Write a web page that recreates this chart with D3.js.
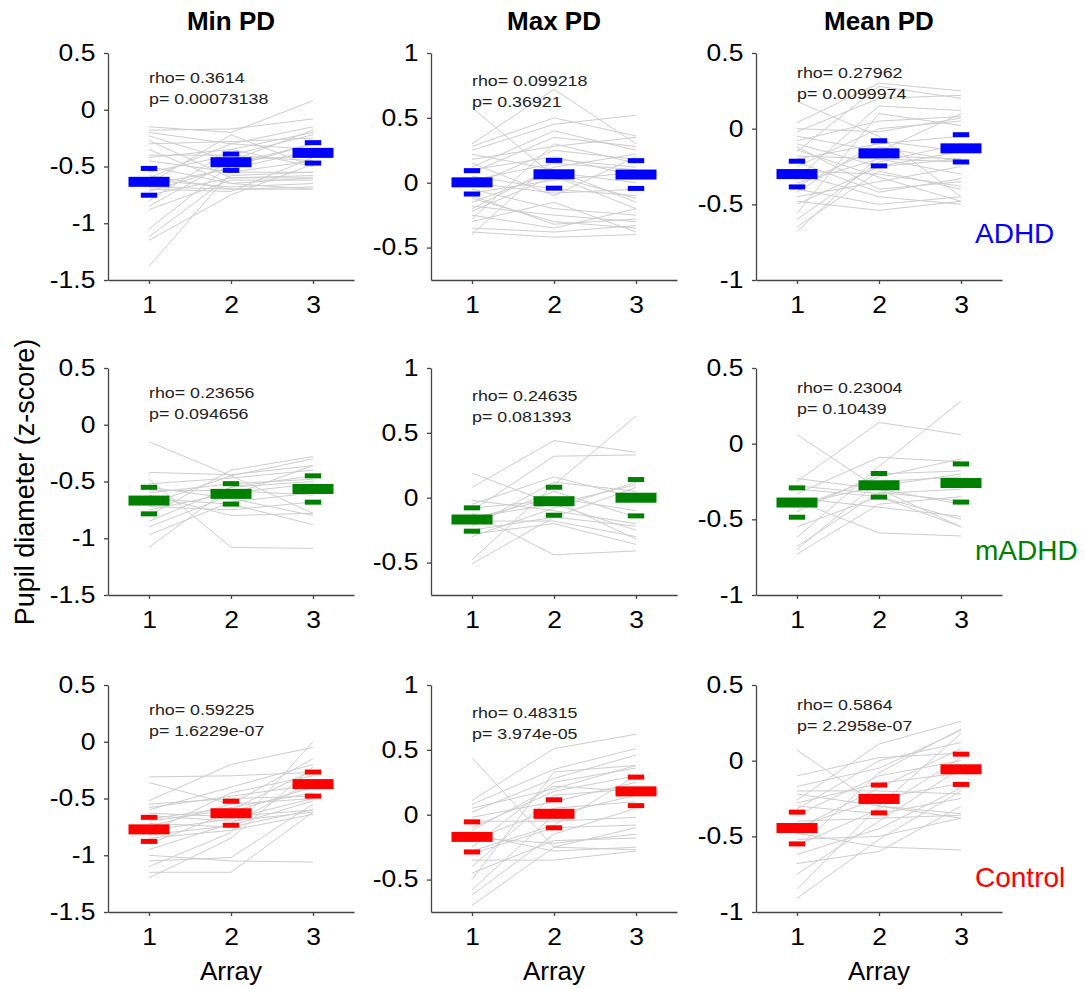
<!DOCTYPE html>
<html>
<head>
<meta charset="utf-8">
<script src="https://cdn.jsdelivr.net/npm/d3@7"></script>
<style>
  body { margin: 0; background: #fff; }
  svg { font-family: "Liberation Sans", Arial, sans-serif; }
</style>
</head>
<body>
<div id="chart"></div>
<script>
// x positions (array number)
const arrays = [1, 2, 3];
const groups = ["ADHD", "mADHD", "Control"];
const measures = ["Min PD", "Max PD", "Mean PD"];

// y axis per measure column
const yDomains = [[-1.5, 0.5], [-0.75, 1], [-1, 0.5]];
const yTicks = [[-1.5, -1, -0.5, 0, 0.5], [-0.5, 0, 0.5, 1], [-1, -0.5, 0, 0.5]];

const rhoVals = [["0.3614", "0.099218", "0.27962"],
                 ["0.23656", "0.24635", "0.23004"],
                 ["0.59225", "0.48315", "0.5864"]];
const pVals = [["0.00073138", "0.36921", "0.0099974"],
               ["0.094656", "0.081393", "0.10439"],
               ["1.6229e-07", "3.974e-05", "2.2958e-07"]];

// group means and sem
const adhdMeans = [[-0.635, -0.462, -0.38], [0.003, 0.065, 0.063], [-0.30, -0.163, -0.13]];
const adhdSem = [[0.118, 0.072, 0.09], [0.09, 0.107, 0.107], [0.085, 0.083, 0.09]];
const madhdMeans = [[-0.668, -0.609, -0.566], [-0.168, -0.027, 0.0], [-0.389, -0.275, -0.26]];
const madhdSem = [[0.117, 0.09, 0.116], [0.09, 0.108, 0.14], [0.097, 0.078, 0.126]];
const ctrlMeans = [[-0.772, -0.63, -0.373], [-0.171, 0.007, 0.18], [-0.445, -0.253, -0.057]];
const ctrlSem = [[0.106, 0.106, 0.106], [0.116, 0.108, 0.11], [0.105, 0.092, 0.1]];

// individual subjects, [array1, array2, array3]
const adhdMin = [
  [-0.15, -0.20, 0.08], [-0.18, -0.17, -0.08], [-0.20, -0.30, -0.15], [-0.23, -0.45, -0.18],
  [-0.27, -0.60, -0.60], [-0.30, -0.28, -0.25], [-0.40, -0.40, -0.22], [-0.45, -0.55, -0.55],
  [-0.50, -0.65, -0.70], [-0.55, -0.40, -0.45], [-0.60, -0.30, -0.35], [-0.62, -0.68, -0.65],
  [-0.65, -0.22, -0.50], [-0.68, -0.70, -0.68], [-0.70, -0.72, -0.42], [-0.72, -0.50, -0.30],
  [-0.75, -0.60, -0.58], [-0.80, -0.35, -0.20], [-0.85, -0.45, -0.40], [-0.88, -0.62, -0.62],
  [-1.05, -0.48, -0.30], [-1.12, -0.58, -0.55], [-1.15, -0.75, -0.48], [-1.38, -0.55, -0.45],
  [-0.35, -0.65, -0.60], [-0.58, -0.70, -0.70], [-0.42, -0.35, -0.50], [-0.66, -0.52, -0.36]
];
const adhdMax = [
  [0.58, 0.05, -0.20], [0.30, 0.72, 0.30], [0.28, 0.50, 0.36], [0.25, 0.45, 0.52],
  [0.22, 0.10, -0.15], [0.18, 0.28, 0.35], [0.15, -0.10, 0.20], [0.12, 0.40, 0.25],
  [0.10, 0.20, 0.05], [0.05, -0.05, -0.10], [0.02, 0.15, 0.10], [-0.02, 0.25, 0.18],
  [-0.05, -0.20, -0.25], [-0.08, 0.02, 0.08], [-0.12, -0.30, -0.35], [-0.15, 0.08, 0.00],
  [-0.18, -0.25, -0.30], [-0.20, 0.12, 0.22], [-0.25, -0.35, -0.20], [-0.28, 0.30, 0.15],
  [-0.30, -0.15, -0.38], [-0.35, -0.38, -0.33], [-0.38, -0.42, -0.40], [-0.40, 0.18, 0.12],
  [-0.10, -0.32, -0.28], [0.00, -0.08, -0.05], [0.08, 0.35, 0.28], [-0.22, 0.05, -0.12]
];
const adhdMean = [
  [0.18, -0.05, -0.45], [0.04, 0.30, 0.25], [-0.02, 0.20, 0.22], [-0.05, -0.15, 0.10],
  [-0.08, 0.05, 0.08], [-0.10, -0.25, -0.20], [-0.12, -0.40, -0.35], [-0.15, 0.28, 0.20],
  [-0.18, -0.20, -0.22], [-0.20, -0.10, -0.05], [-0.25, 0.00, 0.05], [-0.28, -0.30, -0.38],
  [-0.30, -0.45, -0.50], [-0.33, 0.15, 0.12], [-0.36, -0.20, -0.30], [-0.40, -0.50, -0.45],
  [-0.42, -0.08, -0.15], [-0.45, -0.35, -0.25], [-0.48, -0.54, -0.48], [-0.56, 0.10, 0.02],
  [-0.60, -0.22, -0.10], [-0.65, -0.28, -0.40], [-0.68, -0.18, -0.20], [-0.22, -0.42, -0.33],
  [-0.38, -0.12, -0.22], [-0.50, -0.25, -0.15], [0.00, -0.02, 0.07], [-0.14, -0.32, -0.48]
];
const madhdMin = [
  [-0.15, -0.45, -0.78], [-0.42, -0.44, -0.36], [-0.52, -0.47, -0.40], [-0.55, -0.65, -0.80],
  [-0.60, -0.52, -0.48], [-0.65, -0.70, -0.88], [-0.70, -0.45, -0.30], [-0.75, -0.60, -0.52],
  [-0.80, -0.40, -0.28], [-0.85, -0.55, -0.45], [-0.90, -0.62, -0.36], [-0.97, -0.68, -0.60],
  [-1.08, -0.55, -0.50], [-0.62, -0.80, -0.78], [-0.48, -1.08, -1.09], [-0.72, -0.75, -0.68],
  [-0.58, -0.58, -0.62]
];
const madhdMax = [
  [0.19, -0.05, -0.25], [0.08, 0.44, 0.35], [-0.02, -0.10, -0.20], [-0.05, 0.16, 0.00],
  [-0.10, 0.32, 0.33], [-0.15, -0.05, 0.10], [-0.18, -0.18, -0.30], [-0.22, 0.12, 0.05],
  [-0.25, -0.15, -0.22], [-0.28, -0.20, -0.36], [-0.48, 0.10, 0.63], [-0.51, -0.15, 0.08],
  [-0.12, -0.44, -0.41], [-0.20, 0.05, -0.15], [-0.08, -0.02, -0.32], [-0.30, -0.08, 0.12],
  [-0.16, 0.00, -0.10]
];
const madhdMean = [
  [0.06, -0.30, -0.55], [-0.23, -0.30, -0.40], [-0.25, 0.14, 0.06], [-0.30, -0.35, -0.50],
  [-0.33, -0.09, -0.12], [-0.36, -0.42, -0.48], [-0.40, -0.28, -0.20], [-0.45, -0.20, -0.18],
  [-0.55, -0.35, -0.55], [-0.62, -0.15, 0.28], [-0.68, -0.32, -0.38], [-0.70, -0.25, -0.22],
  [-0.73, -0.40, -0.35], [-0.38, -0.59, -0.61], [-0.28, -0.33, -0.30], [-0.42, -0.22, -0.10]
];
const ctrlMin = [
  [-0.31, -0.30, -0.27], [-0.36, -0.55, -0.50], [-0.52, -0.20, -0.05], [-0.55, -0.50, -0.48],
  [-0.60, -0.40, -0.20], [-0.65, -0.70, -0.62], [-0.70, -0.60, -0.25], [-0.72, -0.75, -0.60],
  [-0.75, -0.55, -0.15], [-0.78, -0.68, -0.50], [-0.80, -0.45, -0.30], [-0.85, -0.78, -0.64],
  [-0.90, -0.62, -0.40], [-0.95, -0.72, -0.35], [-1.00, -1.05, -1.06], [-1.05, -1.02, -0.55],
  [-1.10, -0.80, 0.00], [-1.15, -1.15, -0.62], [-1.20, -0.85, -0.22], [-0.68, -0.58, -0.45],
  [-0.58, -0.48, -0.38], [-0.82, -0.74, -0.52], [-0.63, -0.66, -0.60]
];
const ctrlMax = [
  [0.44, -0.25, -0.27], [0.11, 0.51, 0.62], [0.08, 0.35, 0.51], [0.05, 0.20, 0.38],
  [0.02, 0.28, 0.46], [-0.02, 0.10, 0.25], [-0.05, -0.05, -0.02], [-0.10, 0.18, 0.30],
  [-0.15, -0.28, -0.25], [-0.20, 0.05, 0.10], [-0.25, 0.25, 0.36], [-0.30, -0.10, -0.08],
  [-0.35, -0.35, -0.28], [-0.40, 0.15, 0.20], [-0.45, -0.20, -0.18], [-0.50, 0.33, 0.38],
  [-0.58, 0.00, 0.15], [-0.62, -0.15, 0.05], [-0.70, -0.25, -0.10], [-0.12, 0.22, 0.18],
  [-0.28, -0.08, 0.30], [-0.18, -0.22, -0.15]
];
const ctrlMean = [
  [0.07, -0.30, -0.38], [-0.10, 0.02, 0.05], [-0.17, -0.05, 0.20], [-0.20, -0.20, -0.22],
  [-0.22, -0.30, -0.35], [-0.26, 0.11, 0.26], [-0.28, -0.15, -0.08], [-0.32, 0.00, 0.12],
  [-0.36, -0.10, 0.00], [-0.40, -0.38, -0.36], [-0.44, -0.25, -0.15], [-0.48, -0.57, -0.59],
  [-0.52, -0.50, -0.38], [-0.56, -0.32, 0.02], [-0.62, -0.45, -0.18], [-0.68, -0.60, -0.30],
  [-0.75, -0.40, -0.05], [-0.85, -0.30, 0.18], [-0.91, -0.52, -0.20], [-0.45, -0.18, 0.08],
  [-0.58, -0.08, 0.21], [-0.30, -0.35, -0.25]
];

const subjects = [[adhdMin, adhdMax, adhdMean], [madhdMin, madhdMax, madhdMean], [ctrlMin, ctrlMax, ctrlMean]];
const means = [adhdMeans, madhdMeans, ctrlMeans];
const sems = [adhdSem, madhdSem, ctrlSem];
const colors = ["#0000ff", "#008000", "#ff0000"];

// layout
const W = 1085, H = 989;
const colLeft = [108, 431, 756], rowTop = [53, 368, 685];
const pw = 246, ph = 227;
const rhoOffset = [30, 33, 25];
const stretch = "scale(1.15,1)";   // tick/annotation text in the figure is rendered wide
const axisColor = "#444";

const svg = d3.select("#chart").append("svg")
    .attr("width", W)
    .attr("height", H);

svg.append("rect").attr("width", W).attr("height", H).attr("fill", "#fff");

for (let r = 0; r < 3; r++) {
  for (let c = 0; c < 3; c++) {
    let g = svg.append("g")
        .attr("transform", "translate(" + colLeft[c] + "," + rowTop[r] + ")");

    let x = d3.scaleLinear().domain([0.5, 3.5]).range([0, pw]);
    let y = d3.scaleLinear().domain(yDomains[c]).range([ph, 0]);

    let line = d3.line()
        .x((v, i) => x(arrays[i]))
        .y(v => y(v));

    // grey subject lines
    g.selectAll(".subj")
        .data(subjects[r][c])
        .enter().append("path")
        .attr("class", "subj")
        .attr("d", line)
        .attr("fill", "none")
        .attr("stroke", "#cdcdcd")
        .attr("stroke-width", 1);

    // mean (thick) and mean +/- sem (thin)
    let m = means[r][c], s = sems[r][c];
    g.selectAll(".mean")
        .data(arrays)
        .enter().append("rect")
        .attr("class", "mean")
        .attr("x", d => x(d - 0.25))
        .attr("width", d => x(d + 0.25) - x(d - 0.25))
        .attr("y", (d, i) => y(m[i]) - 5)
        .attr("height", 10)
        .attr("fill", colors[r]);

    [1, -1].forEach(function(sign) {
      g.selectAll(".sem" + sign)
          .data(arrays)
          .enter().append("rect")
          .attr("x", d => x(d - 0.1))
          .attr("width", d => x(d + 0.1) - x(d - 0.1))
          .attr("y", (d, i) => y(m[i] + sign * s[i]) - 2.5)
          .attr("height", 5)
          .attr("fill", colors[r]);
    });

    // axes
    let yAxis = g.append("g")
        .call(d3.axisLeft(y).tickValues(yTicks[c]).tickFormat(d => String(d))
              .tickSize(4).tickPadding(7).tickSizeOuter(0));
    yAxis.selectAll("text").attr("transform", stretch);

    let xAxis = g.append("g")
        .attr("transform", "translate(0," + ph + ")")
        .call(d3.axisBottom(x).tickValues(arrays).tickFormat(d3.format("d"))
              .tickSize(4).tickPadding(13).tickSizeOuter(0));
    xAxis.selectAll("text").attr("transform", stretch);

    [yAxis, xAxis].forEach(function(a) {
      a.selectAll("path, line").attr("stroke", axisColor).attr("stroke-width", 1.3);
      a.selectAll("text").attr("fill", "#000")
          .style("font-size", "23px")
          .style("font-family", "'Liberation Sans', Arial, sans-serif");
    });

    // rho / p annotation
    let ann = g.append("g")
        .attr("transform", "translate(" + x(1) + "," + rhoOffset[c] + ")");
    ann.append("text")
        .attr("transform", stretch)
        .style("font-size", "15.5px")
        .attr("fill", "#222")
        .text("rho= " + rhoVals[r][c]);
    ann.append("text")
        .attr("transform", "translate(0,21)" + stretch)
        .style("font-size", "15.5px")
        .attr("fill", "#222")
        .text("p= " + pVals[r][c]);

    if (r === 0) {
      svg.append("text")
          .attr("x", colLeft[c] + x(2))
          .attr("y", 30)
          .attr("text-anchor", "middle")
          .style("font-size", "26px")
          .style("font-weight", "bold")
          .text(measures[c]);
    }
    if (r === 2) {
      svg.append("text")
          .attr("x", colLeft[c] + x(2))
          .attr("y", rowTop[r] + ph + 68)
          .attr("text-anchor", "middle")
          .style("font-size", "26px")
          .text("Array");
    }
  }

  // group label on the right
  svg.append("text")
      .attr("x", 975)
      .attr("y", [243, 560, 887][r])
      .style("font-size", "28px")
      .attr("fill", colors[r])
      .text(groups[r]);
}

// shared y label
svg.append("text")
    .attr("transform", "translate(34,482)rotate(-90)")
    .attr("text-anchor", "middle")
    .style("font-size", "27px")
    .text("Pupil diameter (z-score)");
</script>
</body>
</html>
